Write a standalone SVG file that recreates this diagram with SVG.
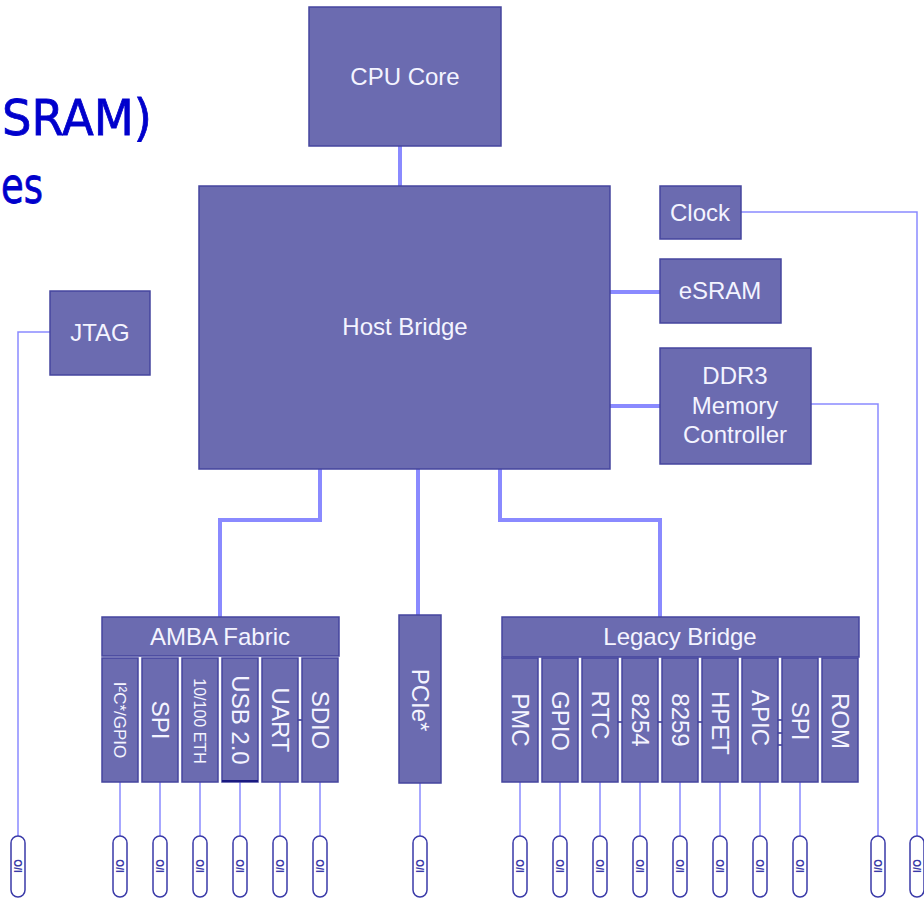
<svg xmlns="http://www.w3.org/2000/svg" width="924" height="898" viewBox="0 0 924 898">
<style>
.box{fill:#6b6bb0;stroke:#45459e;stroke-width:1.5}
.lbl{font-family:"Liberation Sans",Arial,sans-serif;font-size:24px;fill:#f4f4ff;text-anchor:middle}
.bus{stroke:#8a8aff;stroke-width:4;fill:none}
.wire{stroke:#8a8aff;stroke-width:1.5;fill:none}
.tick{stroke:#2c2c8c;stroke-width:1.5;fill:none}
.pill{fill:#ffffff;stroke:#3a3aa8;stroke-width:1.5}
.io{font-family:"Liberation Sans",Arial,sans-serif;font-size:10px;font-weight:bold;fill:#3a3aa8;text-anchor:middle}
.bg{font-family:"DejaVu Sans",sans-serif;font-size:50px;fill:#0000cc;stroke:#0000cc;stroke-width:0.8}
</style>
<rect width="924" height="898" fill="#ffffff"/>
<g id="slide-text">
<text class="bg" x="2" y="135" textLength="150" lengthAdjust="spacingAndGlyphs">SRAM)</text>
<text class="bg" x="1" y="203" textLength="42" lengthAdjust="spacingAndGlyphs">es</text>
</g>
<g id="connectors">
<line class="bus" x1="400" y1="146" x2="400" y2="186"/>
<line class="bus" x1="610" y1="292" x2="660" y2="292"/>
<line class="bus" x1="610" y1="406" x2="660" y2="406"/>
<polyline class="bus" points="320,469 320,520 220,520 220,617"/>
<line class="bus" x1="418" y1="469" x2="418" y2="615"/>
<polyline class="bus" points="500,469 500,520 660,520 660,617"/>
<polyline class="wire" points="50,332 18,332 18,836"/>
<polyline class="wire" points="741,212 917,212 917,836"/>
<polyline class="wire" points="811,404 878,404 878,836"/>
<line class="wire" x1="120" y1="782" x2="120" y2="836"/>
<line class="wire" x1="160" y1="782" x2="160" y2="836"/>
<line class="wire" x1="200" y1="782" x2="200" y2="836"/>
<line class="wire" x1="240" y1="782" x2="240" y2="836"/>
<line class="wire" x1="280" y1="782" x2="280" y2="836"/>
<line class="wire" x1="320" y1="782" x2="320" y2="836"/>
<line class="wire" x1="420" y1="783" x2="420" y2="836"/>
<line class="wire" x1="520" y1="782" x2="520" y2="836"/>
<line class="wire" x1="560" y1="782" x2="560" y2="836"/>
<line class="wire" x1="600" y1="782" x2="600" y2="836"/>
<line class="wire" x1="640" y1="782" x2="640" y2="836"/>
<line class="wire" x1="680" y1="782" x2="680" y2="836"/>
<line class="wire" x1="720" y1="782" x2="720" y2="836"/>
<line class="wire" x1="760" y1="782" x2="760" y2="836"/>
<line class="wire" x1="800" y1="782" x2="800" y2="836"/>
<line class="tick" x1="297" y1="720" x2="303" y2="720"/>
<line class="tick" x1="616" y1="722" x2="624" y2="722"/>
<line class="tick" x1="656" y1="722" x2="664" y2="722"/>
<line class="tick" x1="696" y1="722" x2="704" y2="722"/>
<line class="tick" x1="776" y1="720" x2="784" y2="720"/>
<line class="tick" x1="776" y1="733" x2="784" y2="733"/>
<line class="tick" x1="776" y1="745" x2="784" y2="745"/>
</g>
<g id="cpu-core"><rect class="box" x="309" y="7" width="192" height="139"/><text class="lbl" x="405" y="85">CPU Core</text></g>
<g id="host-bridge"><rect class="box" x="199" y="186" width="411" height="283"/><text class="lbl" x="405" y="335">Host Bridge</text></g>
<g id="clock"><rect class="box" x="660" y="186" width="81" height="53"/><text class="lbl" x="700" y="221">Clock</text></g>
<g id="esram"><rect class="box" x="660" y="259" width="121" height="64"/><text class="lbl" x="720" y="299">eSRAM</text></g>
<g id="ddr3"><rect class="box" x="660" y="348" width="151" height="116"/><text class="lbl" x="735" y="384">DDR3</text><text class="lbl" x="735" y="414">Memory</text><text class="lbl" x="735" y="443">Controller</text></g>
<g id="jtag"><rect class="box" x="50" y="291" width="100" height="84"/><text class="lbl" x="100" y="341">JTAG</text></g>
<g id="amba-fabric"><rect class="box" x="102" y="617" width="237" height="39"/><text class="lbl" x="220" y="645">AMBA Fabric</text></g>
<g id="amba-i2c"><rect class="box" x="102" y="658" width="36" height="124"/><text class="lbl" style="font-size:17px" transform="translate(120,720) rotate(90)" dy="0.35em">I²C*/GPIO</text></g>
<g id="amba-spi"><rect class="box" x="142" y="658" width="36" height="124"/><text class="lbl" transform="translate(160,720) rotate(90)" dy="0.35em">SPI</text></g>
<g id="amba-eth"><rect class="box" x="182" y="658" width="36" height="124"/><text class="lbl" style="font-size:16px" transform="translate(200,721) rotate(90)" dy="0.35em">10/100 ETH</text></g>
<g id="amba-usb"><rect class="box" x="222" y="658" width="36" height="124"/><line x1="222" y1="781" x2="258" y2="781" stroke="#1a1a80" stroke-width="2"/><text class="lbl" transform="translate(240,720) rotate(90)" dy="0.35em">USB 2.0</text></g>
<g id="amba-uart"><rect class="box" x="262" y="658" width="36" height="124"/><text class="lbl" transform="translate(280,720) rotate(90)" dy="0.35em">UART</text></g>
<g id="amba-sdio"><rect class="box" x="302" y="658" width="36" height="124"/><text class="lbl" transform="translate(320,720) rotate(90)" dy="0.35em">SDIO</text></g>
<g id="pcie"><rect class="box" x="399" y="615" width="42" height="168"/><text class="lbl" transform="translate(420,700) rotate(90)" dy="0.35em">PCIe*</text></g>
<g id="legacy-bridge"><rect class="box" x="502" y="617" width="357" height="40"/><text class="lbl" x="680" y="645">Legacy Bridge</text></g>
<g id="leg-pmc"><rect class="box" x="502" y="658" width="36" height="124"/><text class="lbl" transform="translate(520,720) rotate(90)" dy="0.35em">PMC</text></g>
<g id="leg-gpio"><rect class="box" x="542" y="658" width="36" height="124"/><text class="lbl" transform="translate(560,721) rotate(90)" dy="0.35em">GPIO</text></g>
<g id="leg-rtc"><rect class="box" x="582" y="658" width="36" height="124"/><text class="lbl" transform="translate(600,715) rotate(90)" dy="0.35em">RTC</text></g>
<g id="leg-8254"><rect class="box" x="622" y="658" width="36" height="124"/><text class="lbl" transform="translate(640,720) rotate(90)" dy="0.35em">8254</text></g>
<g id="leg-8259"><rect class="box" x="662" y="658" width="36" height="124"/><text class="lbl" transform="translate(680,720) rotate(90)" dy="0.35em">8259</text></g>
<g id="leg-hpet"><rect class="box" x="702" y="658" width="36" height="124"/><text class="lbl" transform="translate(720,723) rotate(90)" dy="0.35em">HPET</text></g>
<g id="leg-apic"><rect class="box" x="742" y="658" width="36" height="124"/><text class="lbl" transform="translate(760,718) rotate(90)" dy="0.35em">APIC</text></g>
<g id="leg-spi"><rect class="box" x="782" y="658" width="36" height="124"/><text class="lbl" transform="translate(800,721) rotate(90)" dy="0.35em">SPI</text></g>
<g id="leg-rom"><rect class="box" x="822" y="658" width="36" height="124"/><text class="lbl" transform="translate(840,721) rotate(90)" dy="0.35em">ROM</text></g>
<g id="io-jtag"><rect class="pill" x="11" y="836" width="14" height="61" rx="7"/><text class="io" transform="translate(18,866) rotate(-90)" dy="0.35em">I/O</text></g>
<g id="io-i2c"><rect class="pill" x="113" y="836" width="14" height="61" rx="7"/><text class="io" transform="translate(120,866) rotate(-90)" dy="0.35em">I/O</text></g>
<g id="io-spi"><rect class="pill" x="153" y="836" width="14" height="61" rx="7"/><text class="io" transform="translate(160,866) rotate(-90)" dy="0.35em">I/O</text></g>
<g id="io-eth"><rect class="pill" x="193" y="836" width="14" height="61" rx="7"/><text class="io" transform="translate(200,866) rotate(-90)" dy="0.35em">I/O</text></g>
<g id="io-usb"><rect class="pill" x="233" y="836" width="14" height="61" rx="7"/><text class="io" transform="translate(240,866) rotate(-90)" dy="0.35em">I/O</text></g>
<g id="io-uart"><rect class="pill" x="273" y="836" width="14" height="61" rx="7"/><text class="io" transform="translate(280,866) rotate(-90)" dy="0.35em">I/O</text></g>
<g id="io-sdio"><rect class="pill" x="313" y="836" width="14" height="61" rx="7"/><text class="io" transform="translate(320,866) rotate(-90)" dy="0.35em">I/O</text></g>
<g id="io-pcie"><rect class="pill" x="413" y="836" width="14" height="61" rx="7"/><text class="io" transform="translate(420,866) rotate(-90)" dy="0.35em">I/O</text></g>
<g id="io-pmc"><rect class="pill" x="513" y="836" width="14" height="61" rx="7"/><text class="io" transform="translate(520,866) rotate(-90)" dy="0.35em">I/O</text></g>
<g id="io-gpio"><rect class="pill" x="553" y="836" width="14" height="61" rx="7"/><text class="io" transform="translate(560,866) rotate(-90)" dy="0.35em">I/O</text></g>
<g id="io-rtc"><rect class="pill" x="593" y="836" width="14" height="61" rx="7"/><text class="io" transform="translate(600,866) rotate(-90)" dy="0.35em">I/O</text></g>
<g id="io-8254"><rect class="pill" x="633" y="836" width="14" height="61" rx="7"/><text class="io" transform="translate(640,866) rotate(-90)" dy="0.35em">I/O</text></g>
<g id="io-8259"><rect class="pill" x="673" y="836" width="14" height="61" rx="7"/><text class="io" transform="translate(680,866) rotate(-90)" dy="0.35em">I/O</text></g>
<g id="io-hpet"><rect class="pill" x="713" y="836" width="14" height="61" rx="7"/><text class="io" transform="translate(720,866) rotate(-90)" dy="0.35em">I/O</text></g>
<g id="io-apic"><rect class="pill" x="753" y="836" width="14" height="61" rx="7"/><text class="io" transform="translate(760,866) rotate(-90)" dy="0.35em">I/O</text></g>
<g id="io-spi2"><rect class="pill" x="793" y="836" width="14" height="61" rx="7"/><text class="io" transform="translate(800,866) rotate(-90)" dy="0.35em">I/O</text></g>
<g id="io-ddr3"><rect class="pill" x="871" y="836" width="14" height="61" rx="7"/><text class="io" transform="translate(878,866) rotate(-90)" dy="0.35em">I/O</text></g>
<g id="io-clock"><rect class="pill" x="910" y="836" width="14" height="61" rx="7"/><text class="io" transform="translate(917,866) rotate(-90)" dy="0.35em">I/O</text></g>
</svg>
